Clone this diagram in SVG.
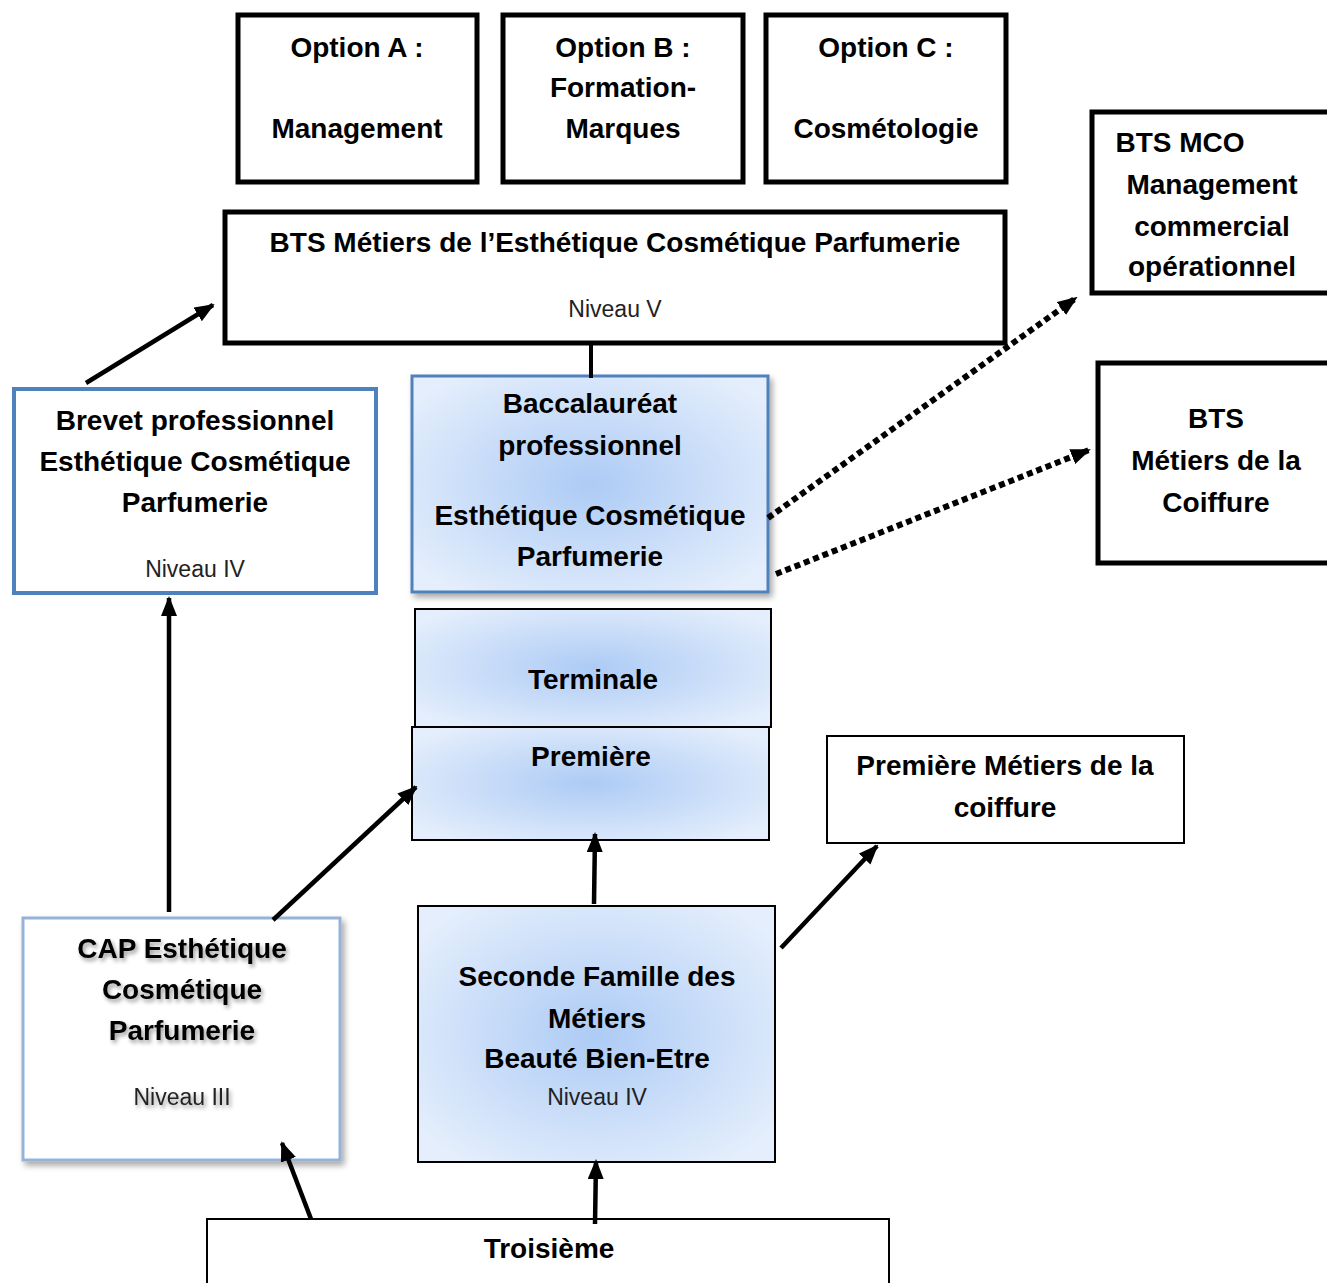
<svg xmlns="http://www.w3.org/2000/svg" width="1327" height="1283" viewBox="0 0 1327 1283">
<defs>
  <radialGradient id="blueGrad" cx="50%" cy="50%" r="62%">
    <stop offset="0" stop-color="#adcbf5"/>
    <stop offset="1" stop-color="#e4eefc"/>
  </radialGradient>
  <filter id="shadow" x="-10%" y="-10%" width="125%" height="125%">
    <feGaussianBlur in="SourceAlpha" stdDeviation="3"/>
    <feOffset dx="3" dy="4" result="b"/>
    <feComponentTransfer><feFuncA type="linear" slope="0.35"/></feComponentTransfer>
    <feMerge><feMergeNode/><feMergeNode in="SourceGraphic"/></feMerge>
  </filter>
  <filter id="txtShadow" x="-10%" y="-20%" width="125%" height="150%">
    <feGaussianBlur in="SourceAlpha" stdDeviation="2"/>
    <feOffset dx="2" dy="3"/>
    <feComponentTransfer><feFuncA type="linear" slope="0.4"/></feComponentTransfer>
    <feMerge><feMergeNode/><feMergeNode in="SourceGraphic"/></feMerge>
  </filter>
  <marker id="arrow" markerUnits="userSpaceOnUse" markerWidth="20" markerHeight="16" refX="18" refY="8" orient="auto">
    <path d="M0,0 L20,8 L0,16 Z" fill="#000"/>
  </marker>
</defs>
<style>
  text { font-family: "Liberation Sans", Arial, sans-serif; fill: #000; text-anchor: middle; }
  .b { font-weight: bold; font-size: 28px; }
  .n { font-weight: normal; font-size: 23px; fill: #222; }
  .thick { fill: #fff; stroke: #000; stroke-width: 5; }
  .thin { fill: #fff; stroke: #000; stroke-width: 2; }
  .grad { fill: url(#blueGrad); stroke: #000; stroke-width: 2; }
  .conn { stroke: #000; stroke-width: 4.5; fill: none; marker-end: url(#arrow); }
  .dot { stroke: #000; stroke-width: 6; fill: none; stroke-dasharray: 6 4; marker-end: url(#arrow); }
</style>

<g id="optionA">
  <rect class="thick" x="238" y="15" width="239" height="167"/>
  <text class="b" x="357" y="57">Option A :</text>
  <text class="b" x="357" y="138">Management</text>
</g>
<g id="optionB">
  <rect class="thick" x="503" y="15" width="240" height="167"/>
  <text class="b" x="623" y="57">Option B :</text>
  <text class="b" x="623" y="97">Formation-</text>
  <text class="b" x="623" y="138">Marques</text>
</g>
<g id="optionC">
  <rect class="thick" x="766" y="15" width="240" height="167"/>
  <text class="b" x="886" y="57">Option C :</text>
  <text class="b" x="886" y="138">Cosmétologie</text>
</g>

<g id="btsMECP">
  <rect class="thick" x="225" y="212" width="780" height="131"/>
  <text class="b" x="615" y="252">BTS Métiers de l’Esthétique Cosmétique Parfumerie</text>
  <text class="n" x="615" y="317">Niveau V</text>
</g>

<g id="btsMCO">
  <rect class="thick" x="1092" y="112" width="245" height="181"/>
  <text class="b" x="1180" y="152">BTS MCO</text>
  <text class="b" x="1212" y="194">Management</text>
  <text class="b" x="1212" y="236">commercial</text>
  <text class="b" x="1212" y="276">opérationnel</text>
</g>

<g id="btsCoiffure">
  <rect class="thick" x="1098" y="363" width="239" height="200"/>
  <text class="b" x="1216" y="428">BTS</text>
  <text class="b" x="1216" y="470">Métiers de la</text>
  <text class="b" x="1216" y="512">Coiffure</text>
</g>

<g id="brevet">
  <rect x="14" y="389" width="362" height="204" fill="#fff" stroke="#4f81bd" stroke-width="4"/>
  <text class="b" x="195" y="430">Brevet professionnel</text>
  <text class="b" x="195" y="471">Esthétique Cosmétique</text>
  <text class="b" x="195" y="512">Parfumerie</text>
  <text class="n" x="195" y="577">Niveau IV</text>
</g>

<g id="bacPro">
  <rect x="412" y="376" width="356" height="216" fill="url(#blueGrad)" stroke="#4f81bd" stroke-width="3" filter="url(#shadow)"/>
  <text class="b" x="590" y="413">Baccalauréat</text>
  <text class="b" x="590" y="455">professionnel</text>
  <text class="b" x="590" y="525">Esthétique Cosmétique</text>
  <text class="b" x="590" y="566">Parfumerie</text>
</g>

<g id="terminale">
  <rect class="grad" x="415" y="609" width="356" height="118"/>
  <text class="b" x="593" y="689">Terminale</text>
</g>

<g id="premiere">
  <rect class="grad" x="412" y="727" width="357" height="113"/>
  <text class="b" x="591" y="766">Première</text>
</g>

<g id="premiereCoiffure">
  <rect class="thin" x="827" y="736" width="357" height="107"/>
  <text class="b" x="1005" y="775">Première Métiers de la</text>
  <text class="b" x="1005" y="817">coiffure</text>
</g>

<g id="seconde">
  <rect class="grad" x="418" y="906" width="357" height="256"/>
  <text class="b" x="597" y="986">Seconde Famille des</text>
  <text class="b" x="597" y="1028">Métiers</text>
  <text class="b" x="597" y="1068">Beauté Bien-Etre</text>
  <text class="n" x="597" y="1105">Niveau IV</text>
</g>

<g id="cap">
  <rect x="23" y="918" width="317" height="242" fill="#fff" stroke="#95b3d7" stroke-width="3" filter="url(#shadow)"/>
  <g filter="url(#txtShadow)">
    <text class="b" x="182" y="958">CAP Esthétique</text>
    <text class="b" x="182" y="999">Cosmétique</text>
    <text class="b" x="182" y="1040">Parfumerie</text>
    <text class="n" x="182" y="1105">Niveau III</text>
  </g>
</g>

<g id="troisieme">
  <rect class="thin" x="207" y="1219" width="682" height="80"/>
  <text class="b" x="549" y="1258">Troisième</text>
</g>

<g id="connectors">
  <line x1="591" y1="343" x2="591" y2="378" stroke="#000" stroke-width="4"/>
  <line class="conn" x1="86" y1="383" x2="213" y2="305"/>
  <line class="conn" x1="169" y1="912" x2="169" y2="598"/>
  <line class="conn" x1="273" y1="920" x2="416" y2="787"/>
  <line class="conn" x1="594" y1="904" x2="595" y2="834"/>
  <line class="conn" x1="781" y1="948" x2="877" y2="846"/>
  <line class="conn" x1="311" y1="1219" x2="282" y2="1143"/>
  <line class="conn" x1="595" y1="1224" x2="596" y2="1161"/>
  <line class="dot" x1="768" y1="518" x2="1076" y2="298"/>
  <line class="dot" x1="776" y1="574" x2="1089" y2="450"/>
</g>
</svg>
